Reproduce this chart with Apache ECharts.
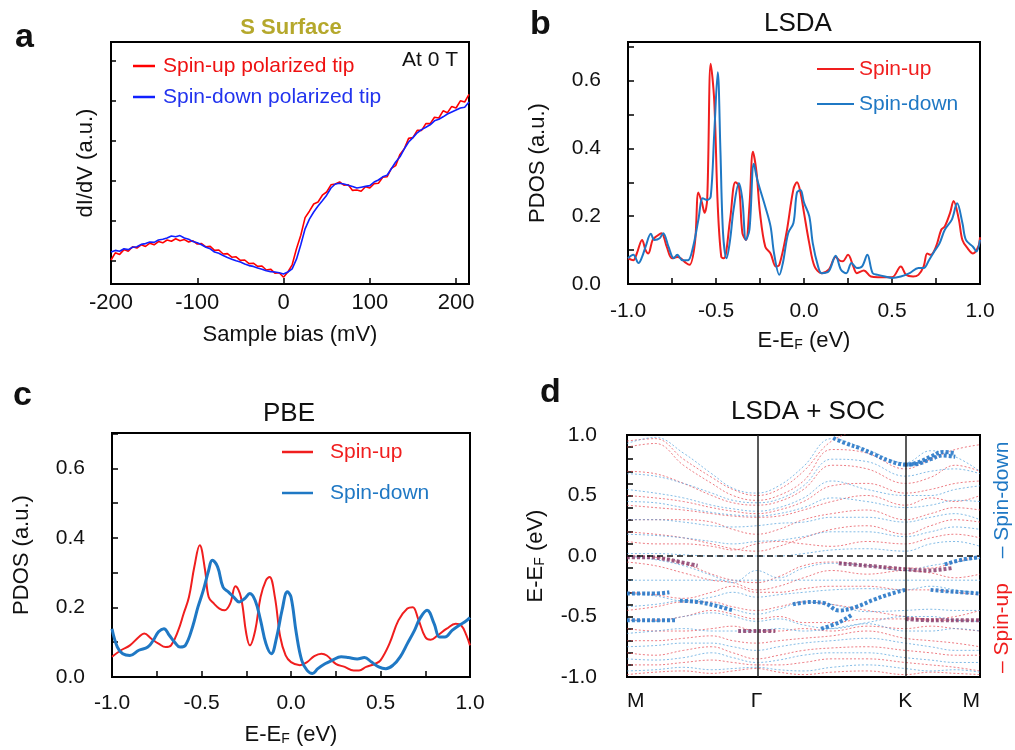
<!DOCTYPE html>
<html>
<head>
<meta charset="utf-8">
<script src="https://cdn.jsdelivr.net/npm/echarts@6/dist/echarts.min.js"></script>
<style>
  html, body { margin: 0; padding: 0; background: #fff; }
  #fig { width: 1015px; height: 750px; }
</style>
</head>
<body>
<div id="fig"></div>
<script>
// ---- panel a: dI/dV spectra (a.u.) vs sample bias (mV)
const aBias = [-200,-195,-190,-185,-180,-175,-170,-165,-160,-155,-150,-145,-140,-135,-130,-125,-120,-115,-110,-105,
  -100,-95,-90,-85,-80,-75,-70,-65,-60,-55,-50,-45,-40,-35,-30,-25,-20,-15,-10,-5,
  0,5,10,15,20,25,30,35,40,45,50,55,60,65,70,75,80,85,90,95,
  100,105,110,115,120,125,130,135,140,145,150,155,160,165,170,175,180,185,190,195,200,205,210,215];
const aTipUp = [0.60,0.78,0.74,0.86,0.82,0.93,0.90,0.98,0.94,1.02,
  0.98,1.06,1.03,1.10,1.07,1.13,1.08,1.11,1.05,1.08,
  1.00,1.01,0.93,0.94,0.84,0.85,0.75,0.76,0.67,0.68,
  0.59,0.60,0.51,0.52,0.44,0.45,0.35,0.37,0.27,0.28,
  0.17,0.30,0.48,0.88,1.22,1.66,1.82,2.00,2.05,2.22,
  2.30,2.48,2.50,2.55,2.47,2.48,2.34,2.35,2.32,2.43,
  2.40,2.51,2.52,2.67,2.68,2.89,2.96,3.24,3.38,3.64,
  3.66,3.84,3.84,4.01,4.01,4.17,4.15,4.33,4.28,4.44,
  4.40,4.58,4.55,4.74];
const aTipDown = [0.80,0.84,0.82,0.88,0.86,0.92,0.93,0.99,1.01,1.05,
  1.04,1.10,1.12,1.15,1.20,1.18,1.21,1.15,1.12,1.06,
  1.03,0.98,0.92,0.88,0.80,0.77,0.71,0.66,0.62,0.58,
  0.55,0.50,0.46,0.44,0.40,0.37,0.33,0.31,0.30,0.28,
  0.25,0.30,0.38,0.62,0.98,1.38,1.62,1.80,1.95,2.08,
  2.22,2.40,2.50,2.52,2.50,2.47,2.44,2.40,2.42,2.44,
  2.46,2.55,2.60,2.68,2.72,2.88,3.05,3.18,3.38,3.55,
  3.66,3.78,3.86,3.92,3.98,4.08,4.12,4.18,4.25,4.30,
  4.35,4.40,4.42,4.55];
const aTicks = [0.575, 1.575, 2.575, 3.575, 4.575, 5.575];

// ---- panel b: LSDA PDOS
const bEnergyUp = [-1.0,-0.97,-0.95,-0.92,-0.9,-0.885,-0.86,-0.84,-0.81,-0.78,-0.75,-0.72,-0.7,-0.67,-0.65,-0.62,-0.6,-0.58,-0.565,-0.55,
  -0.53,-0.51,-0.49,-0.47,-0.455,-0.42,-0.39,-0.37,-0.35,-0.33,-0.31,-0.29,-0.27,-0.25,-0.22,-0.19,-0.16,-0.14,-0.1,-0.06,
  -0.04,-0.02,0.0,0.03,0.06,0.1,0.14,0.18,0.2,0.22,0.25,0.28,0.3,0.34,0.38,0.42,0.5,0.55,0.58,0.62,
  0.65,0.68,0.7,0.72,0.75,0.78,0.8,0.83,0.85,0.88,0.9,0.93,0.96,0.99,1.0];
const bPdosUp = [0.076,0.07,0.09,0.13,0.10,0.09,0.13,0.14,0.15,0.11,0.076,0.08,0.076,0.062,0.057,0.12,0.27,0.24,0.21,0.25,
  0.65,0.54,0.23,0.08,0.076,0.19,0.30,0.29,0.15,0.13,0.23,0.39,0.33,0.21,0.11,0.09,0.052,0.057,0.15,0.28,
  0.30,0.27,0.21,0.12,0.052,0.032,0.042,0.08,0.07,0.067,0.086,0.052,0.032,0.04,0.022,0.02,0.02,0.052,0.027,0.022,
  0.027,0.052,0.09,0.086,0.11,0.16,0.17,0.21,0.245,0.19,0.13,0.105,0.09,0.11,0.138];
const bEnergyDown = [-1.0,-0.97,-0.94,-0.92,-0.9,-0.87,-0.85,-0.82,-0.8,-0.77,-0.74,-0.72,-0.69,-0.66,-0.63,-0.6,-0.575,-0.55,-0.53,-0.51,
  -0.49,-0.475,-0.46,-0.44,-0.42,-0.4,-0.37,-0.35,-0.33,-0.31,-0.285,-0.265,-0.22,-0.19,-0.17,-0.14,-0.12,-0.09,-0.06,-0.04,
  -0.02,0.0,0.03,0.05,0.08,0.1,0.14,0.18,0.21,0.24,0.27,0.3,0.33,0.36,0.39,0.42,0.46,0.5,0.55,0.6,
  0.65,0.68,0.71,0.74,0.77,0.8,0.84,0.87,0.9,0.92,0.96,0.98,1.0];
const bPdosDown = [0.076,0.086,0.062,0.08,0.11,0.148,0.13,0.135,0.15,0.11,0.076,0.086,0.07,0.07,0.11,0.19,0.253,0.248,0.258,0.444,
  0.625,0.395,0.15,0.076,0.13,0.22,0.297,0.248,0.13,0.16,0.355,0.307,0.228,0.17,0.09,0.027,0.062,0.15,0.18,0.27,
  0.277,0.24,0.2,0.12,0.052,0.032,0.037,0.083,0.042,0.032,0.062,0.047,0.052,0.086,0.032,0.027,0.022,0.018,0.022,0.032,
  0.047,0.047,0.07,0.096,0.12,0.16,0.19,0.238,0.18,0.13,0.11,0.096,0.13];

// ---- panel c: PBE PDOS
const cEnergyUp = [-1.0,-0.95,-0.9,-0.85,-0.82,-0.78,-0.74,-0.7,-0.67,-0.63,-0.6,-0.57,-0.54,-0.51,-0.48,-0.46,-0.43,-0.4,-0.37,-0.34,
  -0.31,-0.28,-0.25,-0.23,-0.2,-0.17,-0.14,-0.12,-0.09,-0.06,-0.03,0.0,0.05,0.09,0.13,0.17,0.2,0.25,0.3,0.35,
  0.38,0.42,0.47,0.5,0.55,0.6,0.65,0.68,0.71,0.75,0.78,0.82,0.87,0.92,0.95,0.98,1.0];
const cPdosUp = [0.058,0.077,0.091,0.115,0.125,0.11,0.096,0.086,0.091,0.134,0.182,0.23,0.317,0.379,0.307,0.23,0.211,0.197,0.192,0.211,
  0.261,0.23,0.125,0.091,0.134,0.23,0.278,0.288,0.23,0.115,0.062,0.043,0.034,0.043,0.06,0.067,0.062,0.038,0.029,0.019,
  0.019,0.029,0.038,0.048,0.096,0.163,0.197,0.201,0.168,0.115,0.107,0.12,0.139,0.153,0.149,0.12,0.091];
const cEnergyDown = [-1.0,-0.97,-0.94,-0.9,-0.85,-0.8,-0.77,-0.74,-0.71,-0.68,-0.65,-0.62,-0.59,-0.55,-0.52,-0.49,-0.46,-0.44,-0.41,-0.38,
  -0.35,-0.32,-0.29,-0.26,-0.23,-0.2,-0.17,-0.14,-0.11,-0.08,-0.05,-0.02,0.0,0.03,0.06,0.09,0.12,0.15,0.19,0.23,
  0.28,0.32,0.37,0.41,0.45,0.49,0.53,0.57,0.61,0.65,0.69,0.72,0.76,0.8,0.83,0.86,0.9,0.94,0.97,1.0];
const cPdosDown = [0.139,0.086,0.067,0.062,0.077,0.086,0.105,0.13,0.139,0.12,0.1,0.086,0.091,0.144,0.201,0.249,0.307,0.336,0.317,0.259,
  0.245,0.23,0.216,0.225,0.24,0.22,0.163,0.096,0.067,0.115,0.192,0.245,0.23,0.125,0.048,0.019,0.01,0.024,0.038,0.048,
  0.058,0.056,0.052,0.056,0.043,0.029,0.024,0.034,0.058,0.096,0.134,0.168,0.192,0.153,0.115,0.115,0.134,0.149,0.158,0.171];

// ---- panel d: LSDA + SOC bands along M-Γ-K-M
const kTicks = [0, 0.367, 0.788, 1.0];
const kLabels = ['M', 'Γ', 'K', 'M'];
const kPath = [0, 0.08, 0.16, 0.24, 0.30, 0.367, 0.43, 0.50, 0.58, 0.68, 0.788, 0.86, 0.93, 1.0];
const upBands = [
  [0.95, 0.97, 0.80, 0.65, 0.55, 0.50, 0.55, 0.70, 0.95, 1.05, 1.10, 1.10, 1.10, 1.10],
  [0.90, 0.93, 0.75, 0.60, 0.50, 0.46, 0.50, 0.62, 0.88, 0.85, 0.72, 0.80, 0.88, 0.92],
  [0.70, 0.68, 0.60, 0.50, 0.44, 0.42, 0.45, 0.55, 0.75, 0.72, 0.60, 0.65, 0.75, 0.70],
  [0.50, 0.48, 0.45, 0.40, 0.37, 0.35, 0.38, 0.45, 0.58, 0.60, 0.52, 0.55, 0.60, 0.62],
  [0.42, 0.40, 0.38, 0.35, 0.33, 0.32, 0.33, 0.38, 0.45, 0.50, 0.42, 0.48, 0.45, 0.50],
  [0.30, 0.30, 0.30, 0.28, 0.22, 0.18, 0.22, 0.30, 0.35, 0.38, 0.30, 0.35, 0.40, 0.38],
  [0.20, 0.18, 0.15, 0.10, 0.06, 0.04, 0.08, 0.15, 0.22, 0.25, 0.18, 0.25, 0.30, 0.28],
  [0.12, 0.10, 0.10, 0.08, 0.05, 0.10, 0.12, 0.10, 0.08, 0.12, 0.10, 0.15, 0.18, 0.15],
  [0.00, -0.01, -0.06, -0.15, -0.20, -0.22, -0.17, -0.08, -0.05, -0.08, -0.10, -0.10, -0.05, 0.00],
  [-0.05, -0.08, -0.14, -0.20, -0.22, -0.28, -0.25, -0.18, -0.12, -0.15, -0.12, -0.14, -0.18, -0.15],
  [-0.30, -0.32, -0.35, -0.30, -0.25, -0.30, -0.30, -0.27, -0.25, -0.25, -0.28, -0.28, -0.30, -0.32],
  [-0.45, -0.42, -0.38, -0.38, -0.42, -0.45, -0.42, -0.38, -0.40, -0.45, -0.50, -0.52, -0.50, -0.45],
  [-0.53, -0.53, -0.50, -0.45, -0.48, -0.52, -0.50, -0.55, -0.55, -0.52, -0.52, -0.53, -0.53, -0.53],
  [-0.60, -0.62, -0.62, -0.60, -0.58, -0.62, -0.62, -0.60, -0.62, -0.58, -0.60, -0.58, -0.60, -0.62],
  [-0.70, -0.70, -0.68, -0.66, -0.70, -0.72, -0.70, -0.68, -0.66, -0.62, -0.68, -0.70, -0.72, -0.75],
  [-0.80, -0.82, -0.78, -0.75, -0.80, -0.85, -0.82, -0.78, -0.76, -0.75, -0.78, -0.80, -0.82, -0.82],
  [-0.90, -0.90, -0.88, -0.86, -0.88, -0.90, -0.90, -0.88, -0.85, -0.85, -0.88, -0.90, -0.92, -0.95],
  [-0.98, -0.96, -0.95, -0.97, -0.95, -0.93, -0.96, -0.98, -0.96, -0.95, -0.98, -0.96, -0.97, -0.98]
];
const downBands = [
  [0.93, 0.98, 0.85, 0.68, 0.56, 0.52, 0.58, 0.74, 0.97, 0.88, 0.77, 0.87, 0.82, 0.70],
  [0.68, 0.66, 0.60, 0.52, 0.46, 0.44, 0.47, 0.58, 0.80, 0.78, 0.66, 0.70, 0.72, 0.68],
  [0.55, 0.52, 0.48, 0.42, 0.39, 0.37, 0.40, 0.48, 0.62, 0.55, 0.50, 0.50, 0.55, 0.58],
  [0.45, 0.44, 0.40, 0.36, 0.34, 0.33, 0.35, 0.40, 0.48, 0.45, 0.40, 0.42, 0.46, 0.45],
  [0.30, 0.30, 0.28, 0.25, 0.24, 0.25, 0.27, 0.28, 0.32, 0.32, 0.28, 0.32, 0.35, 0.30],
  [0.18, 0.17, 0.15, 0.12, 0.10, 0.12, 0.13, 0.16, 0.20, 0.20, 0.16, 0.20, 0.24, 0.22],
  [0.02, 0.02, 0.01, 0.00, 0.00, 0.00, 0.00, 0.02, 0.05, 0.06, 0.04, 0.10, 0.12, 0.08],
  [0.00, -0.03, -0.08, -0.16, -0.22, -0.12, -0.18, -0.10, -0.06, -0.08, -0.12, -0.08, -0.05, -0.02],
  [-0.20, -0.20, -0.20, -0.20, -0.20, -0.20, -0.20, -0.20, -0.20, -0.20, -0.20, -0.20, -0.20, -0.20],
  [-0.31, -0.33, -0.37, -0.34, -0.30, -0.34, -0.32, -0.30, -0.28, -0.27, -0.28, -0.25, -0.28, -0.31],
  [-0.42, -0.40, -0.37, -0.39, -0.44, -0.48, -0.44, -0.38, -0.40, -0.46, -0.45, -0.44, -0.45, -0.45],
  [-0.53, -0.54, -0.50, -0.47, -0.50, -0.54, -0.52, -0.57, -0.60, -0.55, -0.50, -0.50, -0.53, -0.54],
  [-0.64, -0.62, -0.60, -0.62, -0.62, -0.62, -0.60, -0.62, -0.60, -0.56, -0.62, -0.62, -0.60, -0.62],
  [-0.75, -0.74, -0.72, -0.72, -0.75, -0.78, -0.75, -0.72, -0.70, -0.68, -0.72, -0.75, -0.78, -0.78],
  [-0.85, -0.86, -0.84, -0.80, -0.84, -0.88, -0.86, -0.82, -0.80, -0.80, -0.84, -0.86, -0.88, -0.88],
  [-0.95, -0.94, -0.92, -0.94, -0.93, -0.92, -0.94, -0.95, -0.92, -0.90, -0.93, -0.95, -0.94, -0.96]
];
// heavy-weight (fat band) segments
const fatBands = [
  { spin: 'down', k: [0.584, 0.62, 0.66, 0.70, 0.74, 0.788, 0.82, 0.86, 0.895, 0.93], e: [0.975, 0.93, 0.89, 0.84, 0.79, 0.755, 0.77, 0.82, 0.86, 0.85] },
  { spin: 'down', k: [0.788, 0.82, 0.86, 0.895, 0.93], e: [0.755, 0.76, 0.80, 0.83, 0.82] },
  { spin: 'up', k: [0, 0.05, 0.1, 0.15, 0.2], e: [-0.01, -0.01, -0.02, -0.05, -0.08] },
  { spin: 'down', k: [0, 0.04, 0.08, 0.12], e: [-0.31, -0.31, -0.31, -0.30] },
  { spin: 'down', k: [0.15, 0.2, 0.25, 0.3], e: [-0.37, -0.38, -0.41, -0.45] },
  { spin: 'down', k: [0, 0.05, 0.1, 0.14], e: [-0.53, -0.53, -0.53, -0.53] },
  { spin: 'up', k: [0.315, 0.35, 0.39, 0.42], e: [-0.62, -0.62, -0.62, -0.62] },
  { spin: 'down', k: [0.47, 0.52, 0.56, 0.6, 0.65, 0.7, 0.75, 0.788], e: [-0.40, -0.38, -0.39, -0.45, -0.42, -0.36, -0.31, -0.28] },
  { spin: 'down', k: [0.55, 0.6, 0.64], e: [-0.60, -0.55, -0.48] },
  { spin: 'up', k: [0.6, 0.68, 0.75, 0.788, 0.85, 0.92], e: [-0.06, -0.08, -0.10, -0.11, -0.12, -0.10] },
  { spin: 'down', k: [0.9, 0.95, 1.0], e: [-0.07, -0.03, -0.01] },
  { spin: 'down', k: [0.86, 0.9, 0.95, 1.0], e: [-0.28, -0.29, -0.30, -0.31] },
  { spin: 'up', k: [0.79, 0.85, 0.9, 0.95, 1.0], e: [-0.52, -0.53, -0.53, -0.53, -0.53] }
];

const FONT = "'Liberation Sans', Arial, Helvetica, sans-serif";
const RED = '#f01e1e';
const BLUE = '#1f78c4';
const pairs = (xs, ys) => xs.map((x, i) => [x, ys[i]]);
const near = (v, step) => Math.abs(v / step - Math.round(v / step)) < 1e-6;

const axisLine = { onZero: false, lineStyle: { color: '#000', width: 2 } };
const eName = {
  fontSize: 22, fontFamily: FONT, color: '#111',
  rich: {
    n: { fontSize: 22, fontFamily: FONT, color: '#111' },
    s: { fontSize: 14, fontFamily: FONT, color: '#111', padding: [9, 0, 0, 0] }
  }
};
const eLabel = '{n|E-E}{s|F}{n| (eV)}';

const chart = echarts.init(document.getElementById('fig'));

const grids = [
  { left: 111, top: 42, width: 358, height: 242 },
  { left: 628, top: 42, width: 352, height: 242 },
  { left: 112, top: 433, width: 358, height: 244 },
  { left: 627, top: 435, width: 353, height: 242 }
].map(g => Object.assign({ show: true, borderColor: '#000', borderWidth: 2, containLabel: false }, g));

const pdosX = (gi, gap, margin) => ({
  gridIndex: gi, type: 'value', min: -1, max: 1, interval: 0.25,
  axisLine, splitLine: { show: false },
  axisTick: { inside: true, length: 6, lineStyle: { width: 1.5 } },
  axisLabel: { margin, fontSize: 21, fontFamily: FONT, color: '#111',
    formatter: v => near(v, 0.5) ? v.toFixed(1) : '' },
  name: eLabel, nameLocation: 'middle', nameGap: gap, nameTextStyle: eName
});
const pdosY = (gi, max) => ({
  gridIndex: gi, type: 'value', min: 0, max, interval: 0.1,
  axisLine, splitLine: { show: false },
  axisTick: { inside: true, length: 6, lineStyle: { width: 1.5 } },
  axisLabel: { margin: 27, fontSize: 21, fontFamily: FONT, color: '#111', showMaxLabel: false,
    formatter: v => near(v, 0.2) ? v.toFixed(1) : '' },
  name: 'PDOS (a.u.)', nameLocation: 'middle', nameGap: 79,
  nameTextStyle: { fontSize: 22, fontFamily: FONT, color: '#111' }
});

const series = [
  { name: 'Spin-up polarized tip', type: 'line', xAxisIndex: 0, yAxisIndex: 0, data: pairs(aBias, aTipUp),
    symbol: 'none', lineStyle: { color: '#ff0000', width: 1.6 }, itemStyle: { color: '#ff0000' } },
  { name: 'Spin-down polarized tip', type: 'line', xAxisIndex: 0, yAxisIndex: 0, data: pairs(aBias, aTipDown),
    symbol: 'none', lineStyle: { color: '#1020ff', width: 1.6 }, itemStyle: { color: '#1020ff' } },
  { name: 'Spin-up', type: 'line', xAxisIndex: 1, yAxisIndex: 1, data: pairs(bEnergyUp, bPdosUp),
    smooth: 0.35, symbol: 'none', lineStyle: { color: RED, width: 2 }, itemStyle: { color: RED } },
  { name: 'Spin-down', type: 'line', xAxisIndex: 1, yAxisIndex: 1, data: pairs(bEnergyDown, bPdosDown),
    smooth: 0.35, symbol: 'none', lineStyle: { color: BLUE, width: 2 }, itemStyle: { color: BLUE } },
  { name: 'Spin-up', type: 'line', xAxisIndex: 2, yAxisIndex: 2, data: pairs(cEnergyUp, cPdosUp),
    smooth: 0.4, symbol: 'none', lineStyle: { color: RED, width: 2 }, itemStyle: { color: RED } },
  { name: 'Spin-down', type: 'line', xAxisIndex: 2, yAxisIndex: 2, data: pairs(cEnergyDown, cPdosDown),
    smooth: 0.4, symbol: 'none', lineStyle: { color: BLUE, width: 3 }, itemStyle: { color: BLUE } }
];

upBands.forEach(band => series.push({
  type: 'line', xAxisIndex: 3, yAxisIndex: 3, data: pairs(kPath, band), smooth: 0.4, symbol: 'none', silent: true,
  lineStyle: { color: 'rgba(230,70,80,0.7)', width: 1, type: [2, 2] }
}));
downBands.forEach(band => series.push({
  type: 'line', xAxisIndex: 3, yAxisIndex: 3, data: pairs(kPath, band), smooth: 0.4, symbol: 'none', silent: true,
  lineStyle: { color: 'rgba(80,160,220,0.7)', width: 1, type: [2, 2] }
}));
fatBands.forEach(f => series.push({
  type: 'line', xAxisIndex: 3, yAxisIndex: 3, data: pairs(f.k, f.e), smooth: 0.4, symbol: 'none', silent: true,
  lineStyle: { color: f.spin === 'down' ? 'rgba(40,120,200,0.9)' : 'rgba(130,50,100,0.8)', width: 4, type: [3, 2] }
}));
// E_F line and high-symmetry lines
series.push({
  type: 'line', xAxisIndex: 3, yAxisIndex: 3, data: [], silent: true,
  markLine: {
    silent: true, symbol: ['none', 'none'], label: { show: false }, animation: false,
    data: [
      { yAxis: 0, lineStyle: { color: '#111', width: 1.5, type: [6, 4] } },
      { xAxis: kTicks[1], lineStyle: { color: '#222', width: 1.5, type: 'solid' } },
      { xAxis: kTicks[2], lineStyle: { color: '#222', width: 1.5, type: 'solid' } }
    ]
  }
});

const text = (x, y, str, size, opts = {}) => ({
  type: 'text', x, y, rotation: opts.rotation || 0, silent: true,
  style: {
    text: str, fill: opts.color || '#111',
    font: (opts.bold ? 'bold ' : '') + size + 'px ' + FONT,
    textAlign: opts.align || 'center', textVerticalAlign: 'middle'
  }
});

const legendText = { fontSize: 21, fontFamily: FONT, lineHeight: 24 };

chart.setOption({
  animation: false,
  backgroundColor: '#fff',
  grid: grids,
  xAxis: [
    { gridIndex: 0, type: 'value', min: -200, max: 215, interval: 100,
      axisLine, splitLine: { show: false },
      axisTick: { inside: true, length: 6, lineStyle: { width: 1.5 } },
      axisLabel: { margin: 8, fontSize: 22, fontFamily: FONT, color: '#111', showMaxLabel: false },
      name: 'Sample bias (mV)', nameLocation: 'middle', nameGap: 40,
      nameTextStyle: { fontSize: 22, fontFamily: FONT, color: '#111' } },
    pdosX(1, 45, 17),
    pdosX(2, 46, 16),
    { gridIndex: 3, type: 'value', min: 0, max: 1,
      axisLine, splitLine: { show: false },
      axisTick: { show: false },
      axisLabel: { margin: 14, fontSize: 21, fontFamily: FONT, color: '#111',
        customValues: kTicks, alignMinLabel: 'left', alignMaxLabel: 'right',
        formatter: v => kLabels[kTicks.findIndex(t => Math.abs(t - v) < 1e-6)] || '' } }
  ],
  yAxis: [
    { gridIndex: 0, type: 'value', min: 0, max: 6.05,
      axisLine, splitLine: { show: false },
      axisTick: { inside: true, length: 5, customValues: aTicks, lineStyle: { width: 1.5 } },
      axisLabel: { show: false },
      name: 'dI/dV (a.u.)', nameLocation: 'middle', nameGap: 14,
      nameTextStyle: { fontSize: 22, fontFamily: FONT, color: '#111' } },
    pdosY(1, 0.714),
    pdosY(2, 0.702),
    { gridIndex: 3, type: 'value', min: -1, max: 1, interval: 0.1,
      axisLine, splitLine: { show: false },
      axisTick: { inside: true, length: 6, lineStyle: { width: 1.5 } },
      axisLabel: { margin: 30, fontSize: 21, fontFamily: FONT, color: '#111',
        formatter: v => near(v, 0.5) ? v.toFixed(1) : '' },
      name: eLabel, nameLocation: 'middle', nameGap: 80, nameTextStyle: eName }
  ],
  legend: [
    { left: 133, top: 54, padding: 0, orient: 'vertical', icon: 'rect', itemWidth: 22, itemHeight: 2.5, itemGap: 7,
      textStyle: Object.assign({ padding: [0, 0, 0, 3] }, legendText),
      data: [
        { name: 'Spin-up polarized tip', textStyle: { color: '#ee1111' } },
        { name: 'Spin-down polarized tip', textStyle: { color: '#2233ee' } }
      ] },
    { left: 817, top: 57, padding: 0, orient: 'vertical', icon: 'rect', itemWidth: 37, itemHeight: 2, itemGap: 11,
      textStyle: legendText,
      data: [
        { name: 'Spin-up', textStyle: { color: RED } },
        { name: 'Spin-down', textStyle: { color: BLUE } }
      ] },
    { left: 282, top: 440, padding: 0, orient: 'vertical', icon: 'rect', itemWidth: 31, itemHeight: 2.5, itemGap: 17,
      textStyle: Object.assign({ padding: [0, 0, 0, 12] }, legendText),
      data: [
        { name: 'Spin-up', textStyle: { color: RED } },
        { name: 'Spin-down', textStyle: { color: BLUE } }
      ] }
  ],
  graphic: [
    text(15, 38, 'a', 34, { bold: true, align: 'left' }),
    text(530, 25, 'b', 34, { bold: true, align: 'left' }),
    text(13, 396, 'c', 34, { bold: true, align: 'left' }),
    text(540, 393, 'd', 34, { bold: true, align: 'left' }),
    text(291, 28, 'S Surface', 22, { bold: true, color: '#b5a82c' }),
    text(402, 60, 'At 0 T', 21, { align: 'left' }),
    text(798, 24, 'LSDA', 26),
    text(289, 414, 'PBE', 26),
    text(808, 412, 'LSDA + SOC', 26),
    text(1002, 500, '– Spin-down', 21, { color: BLUE, rotation: Math.PI / 2 }),
    text(1002, 628, '– Spin-up', 21, { color: RED, rotation: Math.PI / 2 })
  ],
  series
});
</script>
</body>
</html>
